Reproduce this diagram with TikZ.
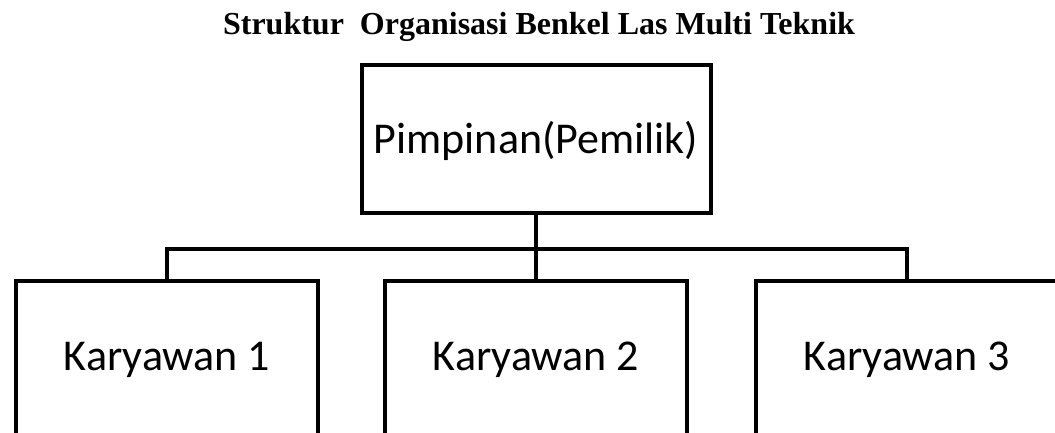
\documentclass[tikz,border=0pt]{standalone}
\usepackage{fontspec}
\setmainfont{Liberation Serif}
\newfontfamily\boxfont{Carlito}
\usetikzlibrary{positioning}

\begin{document}
\begin{tikzpicture}[x=1pt, y=1pt, node distance=68pt,
  every node/.style={inner sep=0pt, outer sep=0pt},
  orgbox/.style={draw, line width=4pt, minimum width=302pt, minimum height=154pt,
    font=\boxfont\fontsize{44}{50}\selectfont, text height=24pt, text depth=0pt},
  link/.style={line width=4pt}]
\useasboundingbox (0,0) rectangle (1055,-432);
\node[anchor=base, font=\bfseries\fontsize{32}{36}\selectfont] (judul) at (539,-34) {Struktur\ \ Organisasi Benkel Las Multi Teknik};
\node[orgbox, minimum width=349pt, minimum height=148pt, text height=28pt] (pimpinan) at (536,-139) {Pimpinan(Pemilik)};
\node[orgbox, below=of pimpinan] (kary2) {Karyawan 2};
\node[orgbox, left=67pt of kary2] (kary1) {Karyawan 1};
\node[orgbox, right=69pt of kary2] (kary3) {Karyawan 3};
\coordinate[below=36pt of pimpinan] (cabang);
% garis penghubung
\draw[link] (pimpinan) -- (kary2);
\draw[link] (kary1.north) |- (cabang) -| (kary3.north);
\end{tikzpicture}
\end{document}
